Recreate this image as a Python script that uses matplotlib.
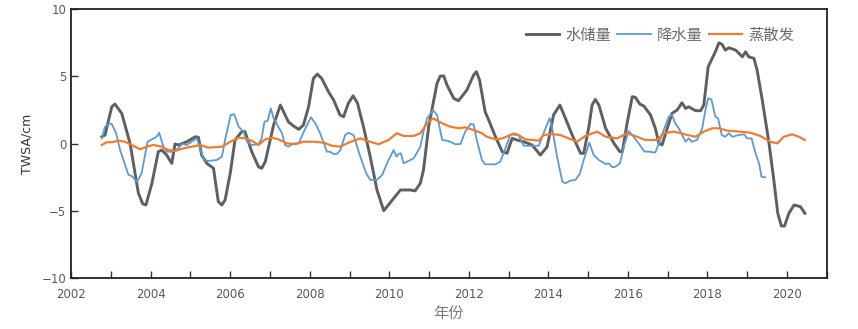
import matplotlib
matplotlib.use("Agg")
import matplotlib.pyplot as plt
import numpy as np

# 水储量 (TWSA)
tws_t = [2002.77, 2002.85, 2003.02, 2003.10, 2003.27, 2003.48, 2003.69, 2003.80, 2003.88, 2004.03,
         2004.19, 2004.28, 2004.40, 2004.53, 2004.61, 2004.70, 2004.91, 2005.12, 2005.20, 2005.28,
         2005.41, 2005.58, 2005.62, 2005.70, 2005.79, 2005.87, 2006.00, 2006.12, 2006.29, 2006.37,
         2006.54, 2006.71, 2006.79, 2006.88, 2007.09, 2007.26, 2007.46, 2007.59, 2007.72, 2007.84,
         2007.97, 2008.09, 2008.19, 2008.30, 2008.47, 2008.60, 2008.76, 2008.85, 2008.97, 2009.09,
         2009.20, 2009.35, 2009.52, 2009.69, 2009.86, 2009.98, 2010.11, 2010.28, 2010.53, 2010.65,
         2010.78, 2010.86, 2010.99, 2011.20, 2011.28, 2011.37, 2011.45, 2011.62, 2011.74, 2011.95,
         2012.12, 2012.19, 2012.27, 2012.41, 2012.50, 2012.67, 2012.84, 2012.96, 2013.09, 2013.21,
         2013.38, 2013.59, 2013.80, 2013.97, 2014.13, 2014.29, 2014.43, 2014.60, 2014.81, 2014.89,
         2015.02, 2015.10, 2015.18, 2015.27, 2015.44, 2015.65, 2015.80, 2015.86, 2015.98, 2016.11,
         2016.19, 2016.30, 2016.40, 2016.57, 2016.69, 2016.78, 2016.86, 2016.99, 2017.11, 2017.24,
         2017.36, 2017.45, 2017.53, 2017.70, 2017.83, 2017.91, 2018.02, 2018.12, 2018.20, 2018.29,
         2018.37, 2018.45, 2018.54, 2018.71, 2018.88, 2018.96, 2019.04, 2019.17, 2019.25, 2019.38,
         2019.55, 2019.67, 2019.77, 2019.86, 2019.94, 2020.05, 2020.18, 2020.34, 2020.45]
tws_v = [0.51, 0.64, 2.74, 2.94, 2.25, 0.02, -3.70, -4.49, -4.56, -2.95,
         -0.60, -0.48, -0.85, -1.47, -0.03, -0.10, 0.14, 0.51, 0.47, -0.85,
         -1.47, -1.84, -2.70, -4.32, -4.57, -4.19, -2.20, 0.27, 0.89, 0.89,
         -0.60, -1.72, -1.84, -1.35, 1.38, 2.87, 1.63, 1.31, 1.06, 1.38,
         2.74, 4.85, 5.17, 4.85, 3.86, 3.24, 2.13, 2.00, 3.00, 3.56,
         3.00, 1.26, -0.97, -3.45, -4.99, -4.56, -4.07, -3.45, -3.45, -3.52,
         -2.95, -1.96, 1.26, 4.48, 5.03, 5.03, 4.36, 3.37, 3.19, 3.98,
         5.10, 5.35, 4.73, 2.37, 1.75, 0.51, -0.60, -0.72, 0.39, 0.27,
         0.14, -0.10, -0.85, -0.23, 2.13, 2.87, 1.88, 0.64, -0.72, -0.72,
         1.26, 2.87, 3.29, 2.87, 1.14, 0.02, -0.60, -0.60, 1.51, 3.49,
         3.44, 2.94, 2.80, 2.13, 1.14, 0.02, -0.10, 1.14, 2.25, 2.50,
         3.04, 2.62, 2.74, 2.45, 2.45, 2.87, 5.72, 6.34, 6.83, 7.50,
         7.38, 6.96, 7.13, 6.96, 6.46, 6.83, 6.46, 6.34, 5.47, 3.24,
         0.02, -2.70, -5.18, -6.13, -6.13, -5.18, -4.57, -4.69, -5.18]

# 降水量
pre_t = [2002.77, 2002.85, 2002.93, 2003.02, 2003.13, 2003.23, 2003.44, 2003.52, 2003.66, 2003.77,
         2003.92, 2004.03, 2004.15, 2004.21, 2004.32, 2004.40, 2004.53, 2004.70, 2004.78, 2004.91,
         2005.03, 2005.16, 2005.24, 2005.34, 2005.45, 2005.66, 2005.79, 2005.87, 2006.01, 2006.10,
         2006.21, 2006.33, 2006.42, 2006.54, 2006.71, 2006.79, 2006.86, 2006.94, 2007.02, 2007.09,
         2007.30, 2007.38, 2007.46, 2007.59, 2007.72, 2007.89, 2008.03, 2008.14, 2008.26, 2008.43,
         2008.51, 2008.60, 2008.68, 2008.77, 2008.89, 2008.97, 2009.10, 2009.27, 2009.42, 2009.52,
         2009.69, 2009.82, 2009.98, 2010.11, 2010.18, 2010.23, 2010.29, 2010.36, 2010.44, 2010.61,
         2010.78, 2010.86, 2010.95, 2011.10, 2011.20, 2011.33, 2011.45, 2011.53, 2011.66, 2011.79,
         2011.91, 2012.04, 2012.12, 2012.20, 2012.33, 2012.41, 2012.54, 2012.67, 2012.79, 2012.92,
         2013.04, 2013.13, 2013.25, 2013.38, 2013.50, 2013.76, 2013.88, 2014.03, 2014.09, 2014.22,
         2014.35, 2014.43, 2014.55, 2014.68, 2014.79, 2014.89, 2015.03, 2015.14, 2015.27, 2015.44,
         2015.52, 2015.61, 2015.69, 2015.80, 2015.90, 2016.02, 2016.11, 2016.27, 2016.42, 2016.53,
         2016.69, 2016.78, 2016.90, 2017.03, 2017.11, 2017.19, 2017.28, 2017.45, 2017.53, 2017.61,
         2017.74, 2017.87, 2017.95, 2018.02, 2018.10, 2018.20, 2018.27, 2018.36, 2018.45, 2018.54,
         2018.63, 2018.79, 2018.92, 2019.00, 2019.11, 2019.21, 2019.30, 2019.36, 2019.45]
pre_v = [0.39, 1.26, 1.46, 1.46, 0.77, -0.48, -2.33, -2.41, -2.83, -2.21,
         0.14, 0.32, 0.51, 0.81, -0.23, -0.60, -0.60, -0.35, -0.03, -0.10,
         0.14, 0.39, -0.35, -1.22, -1.29, -1.22, -0.97, 0.27, 2.13, 2.18,
         1.26, 0.89, 0.14, -0.10, -0.05, 0.39, 1.63, 1.70, 2.62, 1.88,
         0.77, -0.10, -0.23, 0.02, 0.02, 1.14, 1.96, 1.51, 0.77, -0.60,
         -0.60, -0.77, -0.77, -0.48, 0.64, 0.81, 0.64, -0.97, -2.21, -2.70,
         -2.70, -2.33, -1.22, -0.48, -0.97, -0.77, -0.72, -1.47, -1.35, -1.10,
         -0.23, 0.89, 1.88, 2.50, 2.13, 0.27, 0.22, 0.14, -0.05, -0.03,
         0.89, 1.46, 1.43, 0.27, -1.22, -1.54, -1.54, -1.54, -1.35, -0.35,
         0.64, 0.77, 0.64, -0.16, -0.16, -0.16, 0.77, 1.88, 1.26, -0.97,
         -2.83, -2.95, -2.76, -2.70, -2.26, -1.22, 0.07, -0.85, -1.22, -1.52,
         -1.47, -1.76, -1.72, -1.47, -0.23, 0.94, 0.64, 0.02, -0.60, -0.60,
         -0.67, 0.02, 1.01, 2.00, 2.13, 1.51, 1.14, 0.14, 0.39, 0.14,
         0.27, 1.14, 2.50, 3.37, 3.29, 2.00, 1.88, 0.64, 0.51, 0.77,
         0.51, 0.64, 0.69, 0.39, 0.39, -0.72, -1.47, -2.46, -2.51]

# 蒸散发
et_t = [2002.77, 2002.89, 2003.02, 2003.19, 2003.35, 2003.52, 2003.73, 2003.90, 2004.07, 2004.28,
        2004.44, 2004.61, 2004.82, 2005.03, 2005.24, 2005.45, 2005.79, 2006.00, 2006.21, 2006.37,
        2006.54, 2006.71, 2006.88, 2007.05, 2007.21, 2007.42, 2007.63, 2007.84, 2008.09, 2008.35,
        2008.56, 2008.77, 2008.97, 2009.27, 2009.52, 2009.73, 2009.98, 2010.19, 2010.36, 2010.61,
        2010.78, 2010.95, 2011.10, 2011.33, 2011.53, 2011.74, 2011.91, 2012.12, 2012.33, 2012.45,
        2012.67, 2012.84, 2013.09, 2013.25, 2013.42, 2013.76, 2013.88, 2014.09, 2014.30, 2014.51,
        2014.72, 2014.93, 2015.23, 2015.44, 2015.73, 2015.98, 2016.23, 2016.44, 2016.74, 2016.90,
        2017.16, 2017.33, 2017.50, 2017.70, 2017.91, 2018.12, 2018.29, 2018.50, 2018.83, 2019.08,
        2019.33, 2019.58, 2019.76, 2019.92, 2020.13, 2020.30, 2020.45]
et_v = [-0.10, 0.10, 0.10, 0.22, 0.14, -0.10, -0.42, -0.23, -0.10, -0.23,
        -0.48, -0.55, -0.35, -0.23, -0.10, -0.30, -0.23, 0.14, 0.44, 0.39,
        0.22, -0.10, 0.32, 0.44, 0.32, 0.02, -0.05, 0.14, 0.14, 0.07,
        -0.16, -0.23, 0.07, 0.39, 0.14, -0.05, 0.27, 0.77, 0.57, 0.57,
        0.77, 1.51, 1.88, 1.51, 1.26, 1.14, 1.21, 1.01, 0.77, 0.51,
        0.32, 0.39, 0.69, 0.64, 0.32, 0.22, 0.64, 0.71, 0.64, 0.39,
        0.14, 0.57, 0.89, 0.51, 0.39, 0.77, 0.51, 0.27, 0.27, 0.77,
        0.89, 0.77, 0.64, 0.51, 0.89, 1.14, 1.14, 0.96, 0.89, 0.81,
        0.57, 0.14, 0.02, 0.51, 0.69, 0.51, 0.27]

series_names = ["水储量", "降水量", "蒸散发"]
x_tick_labels = ["2002", "2004", "2006", "2008", "2010", "2012", "2014", "2016", "2018", "2020"]
y_ticks = [-10, -5, 0, 5, 10]

plt.rcParams['font.family'] = ['DejaVu Sans', 'Noto Sans CJK SC']

fig = plt.figure(figsize=(8.58, 3.29), dpi=100)
ax = fig.add_axes([0.083, 0.155, 0.8805, 0.817])

ax.plot(tws_t, tws_v, color="#5f5f5f", lw=2.1, label=series_names[0])
ax.plot(pre_t, pre_v, color="#5B9BD5", lw=1.3, label=series_names[1])
ax.plot(et_t, et_v, color="#ED7D31", lw=1.6, label=series_names[2])

ax.set_xlim(2002, 2021)
ax.set_ylim(-10, 10)
ax.set_xticks(np.arange(2002, 2022, 1))
ax.set_xticklabels([str(y) if str(y) in x_tick_labels else "" for y in range(2002, 2022)])
ax.set_yticks(y_ticks)
ax.tick_params(axis='both', direction='in', length=5, width=1.0, colors="#333333",
               labelcolor="#595959", labelsize=8.5)
ax.tick_params(axis='x', pad=7)
for s in ax.spines.values():
    s.set_color("#222222")
    s.set_linewidth(1.3)

ax.set_ylabel("TWSA/cm", fontsize=9, color="#333333", labelpad=6)
ax.set_xlabel("年份", fontsize=11, color="#7a7a7a", family=['Noto Sans CJK SC'], labelpad=3)

leg = ax.legend(loc="center right", ncol=3, frameon=False, fontsize=11,
                handlelength=2.2, columnspacing=0.4, handletextpad=0.4,
                bbox_to_anchor=(0.957, 0.904), borderaxespad=0, borderpad=0)
for t in leg.get_texts():
    t.set_color("#6a6a6a")
    t.set_family(['Noto Sans CJK SC'])

fig.savefig("out.png", dpi=100)
